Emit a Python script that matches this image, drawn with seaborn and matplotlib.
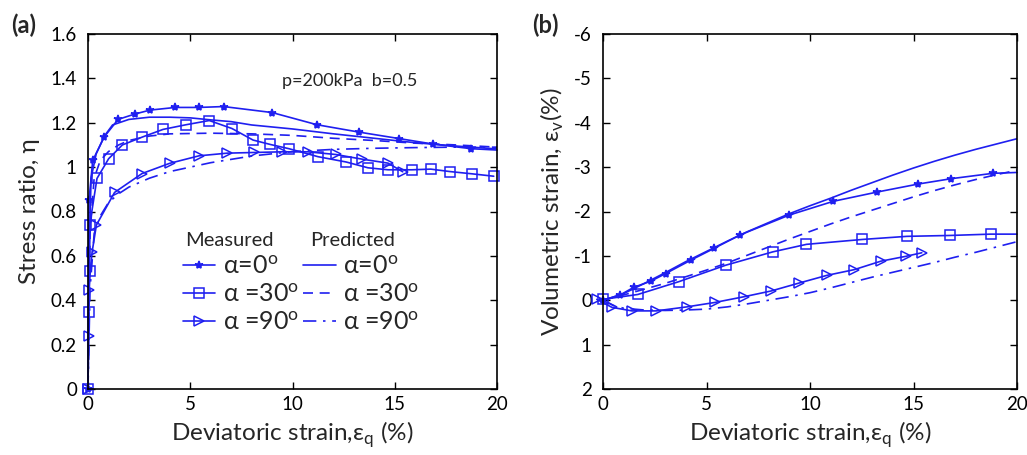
import numpy as np
import pandas as pd
import matplotlib
matplotlib.use("Agg")
import matplotlib.pyplot as plt
import seaborn as sns
from matplotlib.lines import Line2D

# ---------------- data: panel (a) stress ratio ----------------
a_m0_x = [0, 0.05, 0.23, 0.8, 1.47, 2.28, 3.03, 4.27, 5.43, 6.63, 9.0, 11.2, 13.24, 15.19, 16.87, 18.74, 20.0]
a_m0_y = [0, 0.85, 1.03, 1.137, 1.215, 1.239, 1.257, 1.269, 1.269, 1.273, 1.246, 1.191, 1.158, 1.129, 1.104, 1.083, 1.077]

a_m30_x = [0, 0.03, 0.08, 0.08, 0.44, 1.01, 1.68, 2.64, 3.67, 4.79, 5.93, 7.04, 8.07, 8.92, 9.83, 11.25, 12.63, 13.69, 14.67, 15.84, 16.76, 17.7, 18.76, 19.84]
a_m30_y = [0, 0.345, 0.533, 0.737, 0.949, 1.038, 1.1, 1.135, 1.17, 1.191, 1.21, 1.174, 1.122, 1.102, 1.083, 1.047, 1.023, 0.997, 0.988, 0.988, 0.991, 0.98, 0.97, 0.959]

a_m90_x = [0, 0.03, 0.03, 0.2, 0.41, 1.3, 2.64, 3.99, 5.43, 6.81, 8.12, 9.49, 10.74, 12.11, 13.4, 14.67, 15.39]
a_m90_y = [0, 0.24, 0.444, 0.617, 0.739, 0.886, 0.971, 1.017, 1.051, 1.063, 1.066, 1.069, 1.069, 1.057, 1.036, 1.018, 0.979]

a_p0_x = [0, 0.05, 0.15, 0.4, 0.8, 1.2, 2, 3, 4, 5, 6, 7, 8, 10, 12, 14, 16, 18, 20]
a_p0_y = [0, 0.6, 0.95, 1.06, 1.14, 1.19, 1.215, 1.225, 1.225, 1.222, 1.213, 1.205, 1.19, 1.172, 1.15, 1.13, 1.11, 1.095, 1.082]

a_p30_x = [0, 0.1, 0.3, 0.6, 1, 1.5, 2, 3, 4, 6, 8, 10, 12, 14, 16, 18, 20]
a_p30_y = [0, 0.7, 0.95, 1.03, 1.07, 1.1, 1.12, 1.14, 1.15, 1.153, 1.15, 1.143, 1.13, 1.12, 1.108, 1.1, 1.09]

a_p90_x = [0, 0.1, 0.3, 0.6, 1, 1.5, 2, 3, 4, 5, 6, 7, 8, 9, 10, 12, 14, 16, 18, 20]
a_p90_y = [0, 0.45, 0.7, 0.78, 0.84, 0.88, 0.91, 0.95, 0.98, 1.0, 1.02, 1.035, 1.05, 1.06, 1.07, 1.08, 1.085, 1.088, 1.09, 1.09]

# ---------------- data: panel (b) volumetric strain ----------------
b_m0_x = [0, 0.83, 1.48, 2.31, 3.02, 4.23, 5.37, 6.61, 9.0, 11.13, 13.26, 15.24, 16.83, 18.83, 20.0]
b_m0_y = [0, -0.12, -0.29, -0.43, -0.6, -0.9, -1.17, -1.47, -1.92, -2.23, -2.44, -2.62, -2.74, -2.86, -2.88]

b_m30_x = [0, 1.68, 3.67, 5.93, 8.2, 9.83, 12.53, 14.68, 16.76, 18.73, 20.0]
b_m30_y = [-0.02, -0.13, -0.42, -0.79, -1.09, -1.26, -1.37, -1.44, -1.46, -1.49, -1.49]

b_m90_x = [-0.3, 0.43, 1.4, 2.57, 4.04, 5.4, 6.82, 8.13, 9.49, 10.81, 12.14, 13.42, 14.63, 15.4]
b_m90_y = [-0.02, 0.16, 0.24, 0.24, 0.15, 0.05, -0.08, -0.21, -0.39, -0.56, -0.69, -0.88, -0.99, -1.07]

b_p0_x = list(range(0, 21))
b_p0_y = [0, -0.15, -0.38, -0.62, -0.87, -1.1, -1.33, -1.55, -1.75, -1.95, -2.13, -2.3, -2.48, -2.65, -2.82, -2.98, -3.13, -3.27, -3.4, -3.52, -3.64]

b_p30_x = list(range(0, 21))
b_p30_y = [0, -0.12, -0.25, -0.38, -0.53, -0.68, -0.84, -1.02, -1.2, -1.38, -1.55, -1.72, -1.88, -2.03, -2.18, -2.33, -2.47, -2.6, -2.72, -2.83, -2.93]

b_p90_x = [0, 0.5, 1, 2, 3, 4, 5, 6, 7, 8, 9, 10, 11, 12, 13, 14, 15, 16, 17, 18, 19, 20]
b_p90_y = [0, 0.12, 0.18, 0.22, 0.23, 0.22, 0.2, 0.15, 0.08, 0.0, -0.08, -0.17, -0.28, -0.4, -0.52, -0.63, -0.74, -0.85, -0.97, -1.08, -1.2, -1.32]

labels = ["α=0$^{\\rm o}$", "α =30$^{\\rm o}$", "α =90$^{\\rm o}$"]
a_xticks = [0, 5, 10, 15, 20]
a_yticks = [0, 0.2, 0.4, 0.6, 0.8, 1.0, 1.2, 1.4, 1.6]
b_yticks = [-6, -5, -4, -3, -2, -1, 0, 1, 2]

# ---------------- style ----------------
sns.set_style("ticks")
plt.rcParams['font.family'] = ['Lato', 'DejaVu Sans']
plt.rcParams['axes.unicode_minus'] = False
plt.rcParams['mathtext.fontset'] = 'custom'
plt.rcParams['mathtext.rm'] = 'Lato'
C = '#1f1ff0'

fig = plt.figure(figsize=(10.27, 4.55), dpi=100)
axa = fig.add_axes([88/1027, 1-389/455, 409/1027, 355/455])
axb = fig.add_axes([603/1027, 1-389/455, 414/1027, 355/455])

meas_style = [dict(marker='*', markersize=6, markerfacecolor=C),
              dict(marker='s', markersize=6.5, markerfacecolor='none'),
              dict(marker='>', markersize=7.5, markerfacecolor='none')]
pred_ls = ['-', (0, (6, 4)), (0, (8, 4, 1.5, 4))]


def draw(ax, meas, pred, skip_last):
    for (x, y), st, skip in zip(meas, meas_style, skip_last):
        df = pd.DataFrame({'x': x, 'y': y})
        n = len(x)
        mev = list(range(n - 1)) if skip else None
        sns.lineplot(data=df, x='x', y='y', ax=ax, sort=False, estimator=None,
                     color=C, lw=1.2, markeredgecolor=C, markeredgewidth=1.1,
                     clip_on=False, markevery=mev, **st)
    for (x, y), ls in zip(pred, pred_ls):
        df = pd.DataFrame({'x': x, 'y': y})
        sns.lineplot(data=df, x='x', y='y', ax=ax, sort=False, estimator=None,
                     color=C, lw=1.2, linestyle=ls)


draw(axa, [(a_m0_x, a_m0_y), (a_m30_x, a_m30_y), (a_m90_x, a_m90_y)],
     [(a_p0_x, a_p0_y), (a_p30_x, a_p30_y), (a_p90_x, a_p90_y)],
     [True, False, False])
draw(axb, [(b_m0_x, b_m0_y), (b_m30_x, b_m30_y), (b_m90_x, b_m90_y)],
     [(b_p0_x, b_p0_y), (b_p30_x, b_p30_y), (b_p90_x, b_p90_y)],
     [True, True, False])

for ax in (axa, axb):
    ax.set_xlim(0, 20)
    ax.set_xticks(a_xticks)
    ax.tick_params(direction='in', top=True, right=True, length=5, width=1,
                   labelsize=13.5, colors='black')
    ax.tick_params(axis='y', pad=8)
    ax.tick_params(axis='x', pad=5)
    for s in ax.spines.values():
        s.set_linewidth(1.2)
        s.set_color('black')
    ax.set_xlabel("Deviatoric strain,ε$_{\\rm q}$ (%)", fontsize=17.5, labelpad=5)

axa.set_ylim(0, 1.6)
axa.set_yticks(a_yticks)
axa.set_yticklabels([f"{v:g}" for v in a_yticks])
axa.set_ylabel("Stress ratio, η", fontsize=17.5, labelpad=8)
axa.text(9.5, 1.39, "p=200kPa  b=0.5", fontsize=13, va='center', ha='left')

axb.set_ylim(2, -6)
axb.set_yticks(b_yticks)
axb.set_yticklabels([f"{v:g}" for v in b_yticks])
axb.set_ylabel("Volumetric strain, ε$_{\\rm v}$(%)", fontsize=17.5, labelpad=6)

fig.text(11/1027, 1-25/455, "(a)", fontsize=17, fontweight='bold', va='center')
fig.text(532/1027, 1-25/455, "(b)", fontsize=17, fontweight='bold', va='center')

# legend headers
axa.text(4.74, 0.671, "Measured", fontsize=14.5, va='center', ha='left')
axa.text(10.86, 0.671, "Predicted", fontsize=14.5, va='center', ha='left')

# legends
mh = [Line2D([], [], color=C, lw=1.2, markeredgecolor=C, markeredgewidth=1.1, **st) for st in meas_style]
ph = [Line2D([], [], color=C, lw=1.2, linestyle=ls) for ls in pred_ls]
common = dict(loc='upper left', frameon=False, fontsize=18, handlelength=1.3,
              handletextpad=0.3, labelspacing=0.2, borderaxespad=0, borderpad=0)
leg1 = axa.legend(mh, labels, bbox_to_anchor=(0.232, 0.378), **common)
axa.add_artist(leg1)
leg2 = axa.legend(ph, labels, bbox_to_anchor=(0.526, 0.378), **common)

fig.savefig("out.png", dpi=100)
